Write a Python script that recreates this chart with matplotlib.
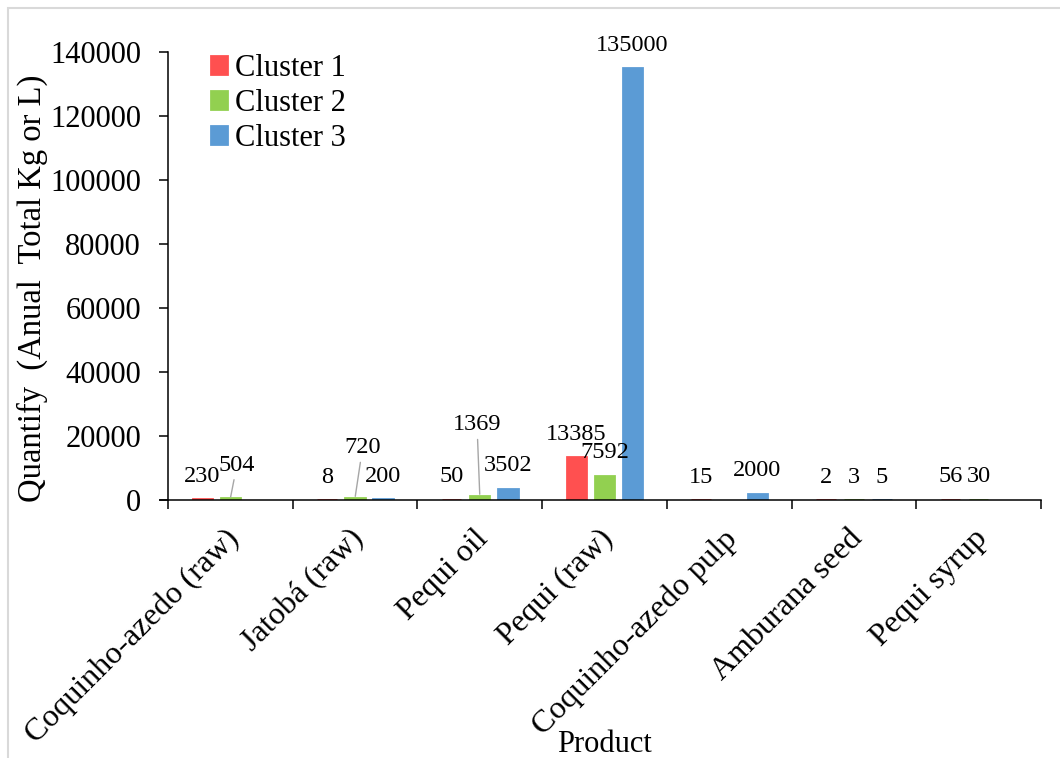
import numpy as np
import matplotlib
matplotlib.use("Agg")
import matplotlib.pyplot as plt
from matplotlib.patches import Rectangle
from matplotlib.transforms import ScaledTranslation

plt.rcParams["font.family"] = ["Liberation Serif", "DejaVu Serif"]

categories = ["Coquinho-azedo (raw)", "Jatobá (raw)", "Pequi oil", "Pequi (raw)",
              "Coquinho-azedo pulp", "Amburana seed", "Pequi syrup"]
series_names = ["Cluster 1", "Cluster 2", "Cluster 3"]
cluster1 = [230, 8, 50, 13385, 15, 2, 56]
cluster2 = [504, 720, 1369, 7592, np.nan, 3, 30]
cluster3 = [np.nan, 200, 3502, 135000, 2000, 5, np.nan]
y_ticks = [0, 20000, 40000, 60000, 80000, 100000, 120000, 140000]

colors = ["#FF5050", "#92D050", "#5B9BD5"]
offsets = [-0.225, 0.0, 0.225]
bar_w = 0.155

# labels that Excel pushed up with a leader line: (series, category) -> offset in points
moved = {(1, 0): (4.7, 24), (1, 1): (5.4, 36), (1, 2): (-2, 51)}

fig = plt.figure(figsize=(10.6, 7.58), dpi=100)
ax = fig.add_axes([168 / 1060, 1 - 500 / 758, (1041 - 168) / 1060, 448 / 758])

x = np.arange(len(categories))
for s, vals in enumerate([cluster1, cluster2, cluster3]):
    vals = np.array(vals, dtype=float)
    ok = ~np.isnan(vals)
    ax.bar(x[ok] + offsets[s], vals[ok], width=bar_w, color=colors[s],
           edgecolor=colors[s], linewidth=2.0, joinstyle="miter",
           label=series_names[s], zorder=2)
    for i in np.where(ok)[0]:
        v = vals[i]
        txt = f"{int(v)}"
        if (s, i) in moved:
            dx, dy = moved[(s, i)]
            ax.annotate(txt, (x[i] + offsets[s], v), xytext=(dx, dy),
                        textcoords="offset points", ha="center", va="center",
                        fontsize=17.5,
                        arrowprops=dict(arrowstyle="-", color="#A6A6A6", lw=1.0,
                                        shrinkA=1, shrinkB=1))
        else:
            ax.annotate(txt, (x[i] + offsets[s], v), xytext=(0, 16.5),
                        textcoords="offset points", ha="center", va="center",
                        fontsize=17.5)

ax.set_xlim(-0.5, len(categories) - 0.5)
ax.set_ylim(0, 140000)
ax.set_yticks(y_ticks)
ax.set_yticklabels([str(t) for t in y_ticks], fontsize=22)
ax.tick_params(axis="y", direction="out", length=6.5, width=1.1, pad=13, color="black")

ax.set_xticks(x)
ax.set_xticklabels(categories, fontsize=23, rotation=45, ha="right", va="center",
                   rotation_mode="anchor")
ax.set_xticks(np.arange(len(categories) + 1) - 0.5, minor=True)
ax.tick_params(axis="x", which="major", length=0, pad=25)
ax.tick_params(axis="x", which="minor", direction="out", length=6.5, width=1.1)
for lab in ax.get_xticklabels():
    lab.set_transform(lab.get_transform() + ScaledTranslation(3 / 72, 0, fig.dpi_scale_trans))

for side in ["top", "right"]:
    ax.spines[side].set_visible(False)
for side in ["left", "bottom"]:
    ax.spines[side].set_linewidth(1.1)
ax.spines["bottom"].set_bounds(-0.565, len(categories) - 0.5)
ax.spines["bottom"].set_zorder(3)

fig.text(32 / 1060, 1 - 288 / 758, "Quantify  (Anual  Total Kg or L)", rotation=90,
         ha="center", va="center", fontsize=23.5)
fig.text(604.5 / 1060, 1 - 745 / 758, "Product", ha="center", va="center", fontsize=22)

ax.legend(loc="upper left", bbox_to_anchor=(211 / 1060, 1 - 54 / 758),
          bbox_transform=fig.transFigure, frameon=False, fontsize=22,
          borderpad=0, borderaxespad=0, handlelength=0.52, handleheight=0.52,
          handletextpad=0.28, labelspacing=0.2)

fig.patches.append(Rectangle((8 / 1060, -0.05), 1.1, 1 - 8 / 758 + 0.05,
                             transform=fig.transFigure, fill=False,
                             edgecolor="#D9D9D9", linewidth=1.5))

fig.savefig("out.png", dpi=100, facecolor="white")
